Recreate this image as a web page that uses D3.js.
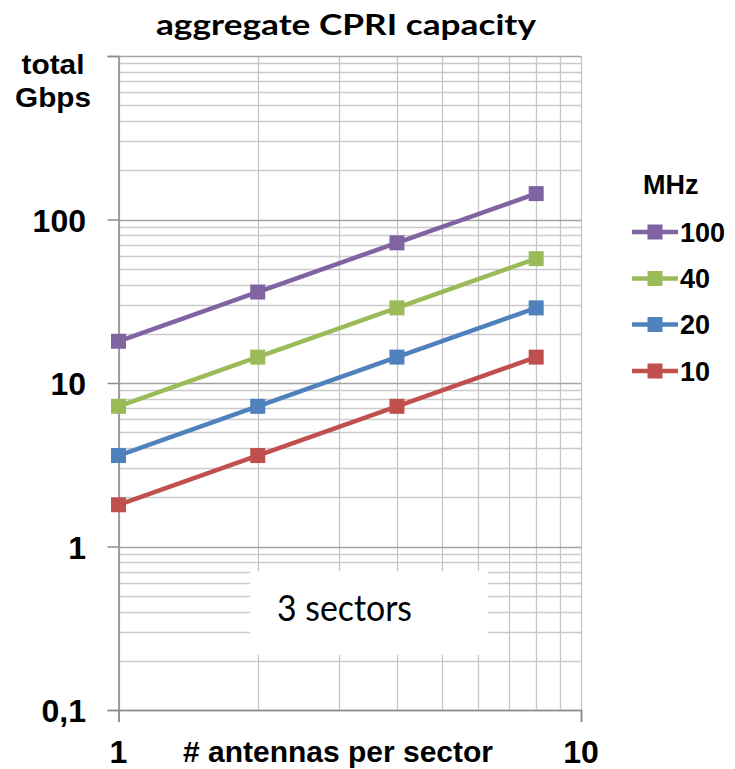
<!DOCTYPE html>
<html>
<head>
<meta charset="utf-8">
<script src="https://cdn.jsdelivr.net/npm/d3@7"></script>
<style>
  html, body { margin: 0; padding: 0; background: #fff; }
  svg { display: block; }
</style>
</head>
<body>
<svg id="chart" width="735" height="769"></svg>
<script>
// ---- data ----
const antennas = [1, 2, 4, 8];
const seriesNames = ["100", "40", "20", "10"];
const seriesColors = ["#8064A2", "#9BBB59", "#4F81BD", "#C0504D"];
const values100 = [18, 36, 72, 144];
const values40 = [7.2, 14.4, 28.8, 57.6];
const values20 = [3.6, 7.2, 14.4, 28.8];
const values10 = [1.8, 3.6, 7.2, 14.4];
const yTickValues = [0.1, 1, 10, 100];
const yTickLabels = ["0,1", "1", "10", "100"];
const xTickValues = [1, 10];
const xTickLabels = ["1", "10"];
const title = "aggregate CPRI capacity";
const xTitle = "# antennas per sector";
const yTitle = ["total", "Gbps"];
const legendTitle = "MHz";
const note = "3 sectors";

const seriesValues = [values100, values40, values20, values10];

const svg = d3.select("#chart");
const L = 118.5, R = 581, T = 56, B = 710;

const x = d3.scaleLog().domain([1, 10]).range([L, R]);
const y = d3.scaleLog().domain([0.1, 1000]).range([B, T]);

const boldFont = "'Liberation Sans', Arial, sans-serif";
const humanFont = "Lato, 'Open Sans', sans-serif";

// ---- gridlines ----
const grid = svg.append("g");
const yMinor = y.ticks().filter(v => !yTickValues.includes(v) && v !== 1000);
const yMajorAll = [0.1, 1, 10, 100, 1000];
grid.selectAll("line.ymin").data(yMinor).join("line")
  .attr("x1", L).attr("x2", R)
  .attr("y1", d => Math.round(y(d)) + 0.5).attr("y2", d => Math.round(y(d)) + 0.5)
  .attr("stroke", "#cacaca").attr("stroke-width", 1.3);
grid.selectAll("line.xmin").data(x.ticks()).join("line")
  .attr("x1", d => Math.round(x(d)) + 0.5).attr("x2", d => Math.round(x(d)) + 0.5)
  .attr("y1", T).attr("y2", B)
  .attr("stroke", "#c6c6c6").attr("stroke-width", 1.3);
grid.selectAll("line.ymaj").data(yMajorAll).join("line")
  .attr("x1", L).attr("x2", R)
  .attr("y1", d => Math.round(y(d)) + 0.5).attr("y2", d => Math.round(y(d)) + 0.5)
  .attr("stroke", "#a4a4a4").attr("stroke-width", 1.4);

// ---- "3 sectors" box ----
svg.append("rect")
  .attr("x", 250).attr("y", 571).attr("width", 238).attr("height", 84)
  .attr("fill", "#fff");
svg.append("text")
  .attr("x", 277).attr("y", 621)
  .attr("font-family", humanFont).attr("font-size", 36)
  .attr("fill", "#000")
  .attr("textLength", 135).attr("lengthAdjust", "spacingAndGlyphs")
  .text(note);

// ---- axes ----
const yAxis = d3.axisLeft(y).tickValues(yMajorAll).tickSize(11).tickFormat("");
const gy = svg.append("g").attr("transform", `translate(${L},0)`).call(yAxis);
const xAxis = d3.axisBottom(x).tickValues(xTickValues).tickSize(12).tickFormat("");
const gx = svg.append("g").attr("transform", `translate(0,${B})`).call(xAxis);
[gx, gy].forEach(g => {
  g.selectAll("path").attr("stroke", "#8c8c8c").attr("stroke-width", 1.5);
  g.selectAll("line").attr("stroke", "#8c8c8c").attr("stroke-width", 1.5);
});

// y tick labels
svg.append("g").selectAll("text").data(yTickValues).join("text")
  .attr("x", 86).attr("y", d => y(d) + 12)
  .attr("text-anchor", "end")
  .attr("font-family", boldFont).attr("font-weight", "bold").attr("font-size", 32)
  .text((d, i) => yTickLabels[i]);

// x tick labels
svg.append("g").selectAll("text").data(xTickValues).join("text")
  .attr("x", d => x(d)).attr("y", 763)
  .attr("text-anchor", "middle")
  .attr("font-family", boldFont).attr("font-weight", "bold").attr("font-size", 32)
  .text((d, i) => xTickLabels[i]);

// x title
svg.append("text")
  .attr("x", 183).attr("y", 762)
  .attr("font-family", boldFont).attr("font-weight", "bold").attr("font-size", 30)
  .attr("textLength", 310).attr("lengthAdjust", "spacingAndGlyphs")
  .text(xTitle);

// y title
svg.append("g").selectAll("text").data(yTitle).join("text")
  .attr("x", 53).attr("y", (d, i) => 74 + i * 33)
  .attr("text-anchor", "middle")
  .attr("font-family", boldFont).attr("font-weight", "bold").attr("font-size", 28)
  .attr("textLength", (d, i) => [63, 76][i]).attr("lengthAdjust", "spacingAndGlyphs")
  .text(d => d);

// title
svg.append("text")
  .attr("x", 156).attr("y", 35)
  .attr("font-family", humanFont).attr("font-weight", "bold").attr("font-size", 29)
  .attr("textLength", 380).attr("lengthAdjust", "spacingAndGlyphs")
  .text(title);

// ---- series ----
const line = d3.line().x(d => x(d[0])).y(d => y(d[1]));
const series = seriesNames.map((name, i) => ({
  name, color: seriesColors[i],
  pts: antennas.map((a, j) => [a, seriesValues[i][j]])
}));
const gs = svg.append("g");
series.slice().reverse().forEach(s => {
  gs.append("path").datum(s.pts)
    .attr("d", line).attr("fill", "none")
    .attr("stroke", s.color).attr("stroke-width", 4.5);
  gs.selectAll(null).data(s.pts).join("rect")
    .attr("x", d => x(d[0]) - 7.5).attr("y", d => y(d[1]) - 7.5)
    .attr("width", 15).attr("height", 15)
    .attr("fill", s.color);
});

// ---- legend ----
svg.append("text")
  .attr("x", 643).attr("y", 194)
  .attr("font-family", boldFont).attr("font-weight", "bold").attr("font-size", 27)
  .text(legendTitle);
const rowY = [232, 278.5, 324.5, 371];
const lg = svg.append("g");
series.forEach((s, i) => {
  const cy = rowY[i];
  lg.append("line").attr("x1", 632).attr("x2", 678).attr("y1", cy).attr("y2", cy)
    .attr("stroke", s.color).attr("stroke-width", 4.5);
  lg.append("rect").attr("x", 647.5).attr("y", cy - 7.5).attr("width", 15).attr("height", 15)
    .attr("fill", s.color);
  lg.append("text").attr("x", 680).attr("y", cy + 9.5)
    .attr("font-family", boldFont).attr("font-weight", "bold").attr("font-size", 27)
    .text(s.name);
});
</script>
</body>
</html>
